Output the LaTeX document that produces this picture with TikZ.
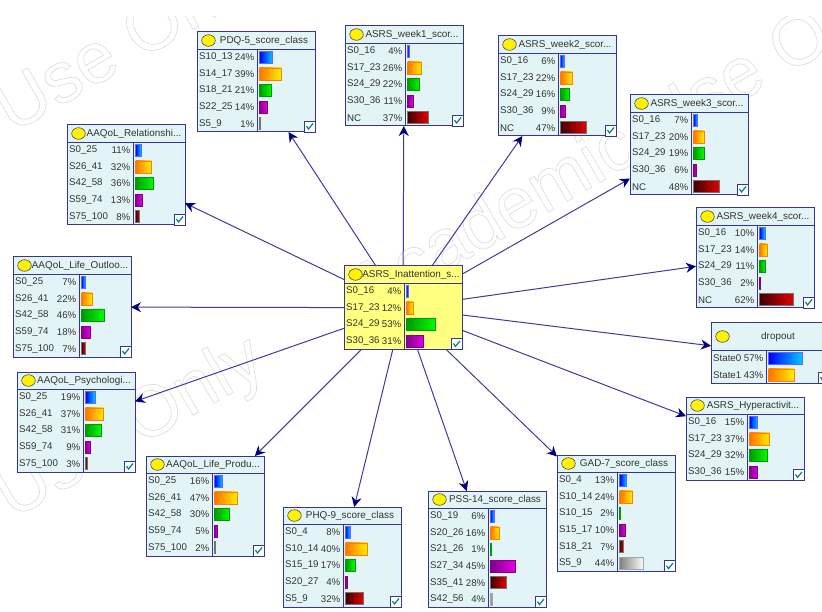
\documentclass[tikz,border=0pt]{standalone}
\usepackage{fontspec}
\setmainfont{Liberation Sans}
\usetikzlibrary{arrows.meta}
\definecolor{netline}{RGB}{52,52,155}
\definecolor{netfill}{RGB}{227,244,246}
\definecolor{mainfill}{RGB}{255,255,128}
\definecolor{edgeline}{RGB}{60,60,160}
\definecolor{navy}{RGB}{0,0,128}
\definecolor{barpurple}{RGB}{128,0,140}
\definecolor{barpink}{RGB}{230,0,230}
\tikzset{
  netbox/.style={draw=netline,line width=1pt,rectangle,inner sep=0pt,outer sep=0pt},
  netrule/.style={draw=netline,line width=0.9pt},
  rowtext/.style={inner sep=0pt,text=black!80,font=\fontsize{9.7}{11}\selectfont},
  titletext/.style={inner sep=0pt,text=black!80,font=\fontsize{9.9}{11}\selectfont},
  marktext/.style={rotate=30,anchor=base west,inner sep=0pt,font=\fontsize{72}{80}\selectfont},
  link/.style={draw=edgeline,line width=1pt,-{Stealth[length=10pt,width=10pt,color=navy]}},
  bar1/.style={left color=blue,right color=cyan!80!blue,draw=blue!60!white,line width=0.5pt},
  bar2/.style={left color=orange!90!red,right color=yellow!90!orange,draw=orange,line width=0.7pt},
  bar3/.style={left color=green!60!black,right color=green,draw=green!60!black,line width=0.6pt},
  bar4/.style={left color=barpurple,right color=barpink,draw=barpurple,line width=0.6pt},
  bar5/.style={left color=red!25!black,right color=red!90!black,draw=black!55,line width=0.6pt},
  bar6/.style={left color=black!50,right color=white,draw=black!35,line width=0.6pt},
  checkbox/.style={draw=netline,fill=white,line width=0.7pt},
  checkmark/.style={draw=teal,line width=1.2pt},
  bubble/.style={draw=black!70,fill=yellow,line width=0.6pt},
}
% name, x, y, title height, label width, fill, title, rows
\newcommand{\netbox}[8]{%
  \foreach \lab/\pct [count=\n] in {#8} {\xdef\rowsn{\n}}
  \pgfmathsetmacro\boxh{#4+16.6*\rowsn}
  \node[netbox,fill=#6,minimum width=118pt,minimum height=\boxh pt,anchor=north west] (#1) at (#2,#3) {};
  \draw[netrule] (#2,#3+#4) -- (#2+118,#3+#4);
  \draw[netrule] (#2+#5,#3+#4) -- (#2+#5,#3+\boxh);
  \draw[bubble] (#2+11.5,#3+#4/2) ellipse (6.8 and 5.8);
  \node[titletext] (#1title) at (#2+67,#3+#4/2) {#7};
  \pgfmathsetmacro\barscale{(118-#5)*0.0095}
  \foreach \lab/\pct [count=\n] in {#8} {
    \pgfmathsetmacro\rowy{#3+#4+16.6*(\n-0.5)}
    \pgfmathsetmacro\barw{max(\pct*\barscale,0.4)}
    \node[rowtext,anchor=west] (#1lab\n) at (#2+2,\rowy) {\lab};
    \node[rowtext,anchor=east] (#1pct\n) at (#2+#5-2.5,\rowy) {\pct\%};
    \path[bar\n] (#2+#5+2.5,\rowy-6) rectangle (#2+#5+2.5+\barw,\rowy+6);
  }
  \draw[checkbox] (#2+107,#3+\boxh-11) rectangle (#2+118,#3+\boxh);
  \draw[checkmark] (#2+109.5,#3+\boxh-6) -- (#2+111.5,#3+\boxh-3) -- (#2+116,#3+\boxh-8.5);
}
\newcommand{\marklit}[1]{\special{pdf:code q 1 Tr 0.7 w 0.87 G}#1\special{pdf:code Q}}
\begin{document}
\begin{tikzpicture}[x=1pt,y=-1pt]
\path[use as bounding box,clip] (0,0) rectangle (822,612);
% watermark
\begin{scope}
\clip (0,17) rectangle (822,612);
\node[marktext] (markone) at (12,134) {\marklit{Use Only}};
\node[marktext] (marktwo) at (12,520) {\marklit{Use Only}};
\node[marktext] (markthree) at (367,317) {\marklit{Academic Use Only}};
\end{scope}
% boxes
\netbox{inatt}{344}{266}{17}{60}{mainfill}{ASRS\_Inattention\_s...}{S0\_16/4,S17\_23/12,S24\_29/53,S30\_36/31}
\netbox{pdq}{197}{32}{17}{60}{netfill}{PDQ-5\_score\_class}{S10\_13/24,S14\_17/39,S18\_21/21,S22\_25/14,S5\_9/1}
\netbox{relation}{67}{125}{17}{66}{netfill}{AAQoL\_Relationshi...}{S0\_25/11,S26\_41/32,S42\_58/36,S59\_74/13,S75\_100/8}
\netbox{weekone}{345}{26}{17}{60}{netfill}{ASRS\_week1\_scor...}{S0\_16/4,S17\_23/26,S24\_29/22,S30\_36/11,NC/37}
\netbox{weektwo}{498}{36}{17}{60}{netfill}{ASRS\_week2\_scor...}{S0\_16/6,S17\_23/22,S24\_29/16,S30\_36/9,NC/47}
\netbox{weekthree}{630}{95}{17}{61}{netfill}{ASRS\_week3\_scor...}{S0\_16/7,S17\_23/20,S24\_29/19,S30\_36/6,NC/48}
\netbox{weekfour}{696}{208}{17}{61}{netfill}{ASRS\_week4\_scor...}{S0\_16/10,S17\_23/14,S24\_29/11,S30\_36/2,NC/62}
\netbox{dropout}{711}{323}{27}{55}{netfill}{dropout}{State0/57,State1/43}
\netbox{hyper}{686}{397}{17}{61}{netfill}{ASRS\_Hyperactivit...}{S0\_16/15,S17\_23/37,S24\_29/32,S30\_36/15}
\netbox{gad}{557}{455}{17}{60}{netfill}{GAD-7\_score\_class}{S0\_4/13,S10\_14/24,S10\_15/2,S15\_17/10,S18\_21/7,S5\_9/44}
\netbox{pss}{428}{491}{17}{60}{netfill}{PSS-14\_score\_class}{S0\_19/6,S20\_26/16,S21\_26/1,S27\_34/45,S35\_41/28,S42\_56/4}
\netbox{phq}{283}{507}{17}{60}{netfill}{PHQ-9\_score\_class}{S0\_4/8,S10\_14/40,S15\_19/17,S20\_27/4,S5\_9/32}
\netbox{produ}{146}{456}{17}{66}{netfill}{AAQoL\_Life\_Produ...}{S0\_25/16,S26\_41/47,S42\_58/30,S59\_74/5,S75\_100/2}
\netbox{psych}{17}{372}{17}{66}{netfill}{AAQoL\_Psychologi...}{S0\_25/19,S26\_41/37,S42\_58/31,S59\_74/9,S75\_100/3}
\netbox{outlook}{13}{257}{17}{66}{netfill}{AAQoL\_Life\_Outloo...}{S0\_25/7,S26\_41/22,S42\_58/46,S59\_74/18,S75\_100/7}
% links
\foreach \target in {pdq,relation,weekone,weektwo,weekthree,weekfour,dropout,hyper,gad,pss,phq,produ,psych,outlook}
  \draw[link] (inatt) -- (\target);
\end{tikzpicture}
\end{document}
